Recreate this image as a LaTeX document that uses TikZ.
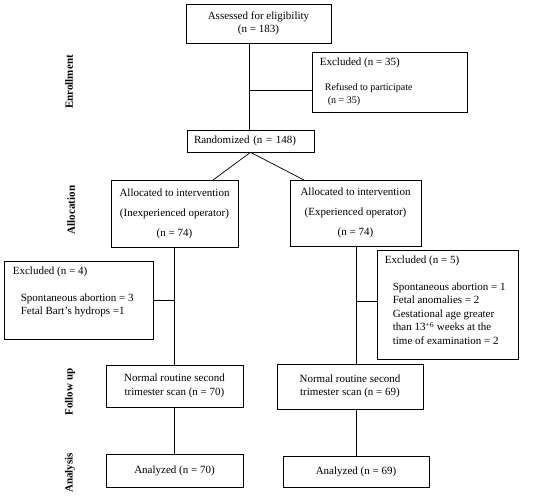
\documentclass[tikz,border=0pt]{standalone}
\usepackage{fontspec}
\setmainfont{Liberation Serif}
\usetikzlibrary{positioning}
\begin{document}
\begin{tikzpicture}[x=1pt,y=-1pt]
\tikzstyle{boite}=[draw,line width=0.7pt,inner sep=0pt,align=center,font=\fontsize{11}{13.5}\selectfont]
\tikzstyle{texte}=[inner sep=0pt,align=left,font=\fontsize{11}{13.5}\selectfont]
\tikzstyle{trait}=[line width=0.7pt]
\tikzstyle{phase}=[rotate=90,inner sep=0pt,font=\fontsize{11}{13}\selectfont\bfseries]
\useasboundingbox (0,0) rectangle (550,498);
% phases
\node[phase] (Enroll) at (69,82) {Enrollment};
\node[phase] (Alloc) at (71,210) {Allocation};
\node[phase] (Suivi) at (70,392) {Follow up};
\node[phase] (Analyse) at (70,473) {Analysis};
% boites
\node[boite,minimum width=145pt,minimum height=39pt] (Assess) at (258.5,23.5) {Assessed for eligibility\\(n = 183)};
\node[boite,minimum width=155pt,minimum height=60pt] (Excl) at (389.5,82) {};
\node[texte,below right=6pt and 8pt of Excl.north west] (ExclTxt) {Excluded (n = 35)\\[11.5pt]\fontsize{10}{12}\selectfont\hspace{5pt}Refused to participate\\\fontsize{10}{12}\selectfont\hspace{8pt}(n = 35)};
\node[boite,minimum width=127pt,minimum height=22pt,text width=113pt,inner xsep=7pt,align=left] (Rand) at (250.5,141) {Randomized (n = 148)};
\node[boite,minimum width=127pt,minimum height=67pt] (AllocL) at (174.5,213.5) {Allocated to intervention\\[6.5pt](Inexperienced operator)\\[6.5pt](n = 74)};
\node[boite,minimum width=131pt,minimum height=66pt] (AllocR) at (355.5,213) {Allocated to intervention\\[6.5pt](Experienced operator)\\[6.5pt](n = 74)};
\node[boite,minimum width=149pt,minimum height=78pt] (ExclL) at (78.5,300) {};
\node[texte,below right=6pt and 9pt of ExclL.north west] (ExclLTxt) {Excluded (n = 4)\\[13.5pt]\hspace{8pt}Spontaneous abortion = 3\\\hspace{8pt}Fetal Bart’s hydrops =1};
\node[boite,minimum width=141pt,minimum height=109pt] (ExclR) at (447.5,304.5) {};
\node[texte,below right=6pt and 8pt of ExclR.north west] (ExclRTxt) {Excluded (n = 5)\\[13.5pt]\hspace{8pt}Spontaneous abortion = 1\\\hspace{8pt}Fetal anomalies = 2\\\hspace{8pt}Gestational age greater\\\hspace{8pt}than 13\textsuperscript{+6} weeks at the\\\hspace{8pt}time of examination = 2};
\node[boite,minimum width=137pt,minimum height=42pt] (SuiviL) at (174.5,386) {Normal routine second\\trimester scan (n = 70)};
\node[boite,minimum width=146pt,minimum height=45pt] (SuiviR) at (350,386.5) {Normal routine second\\trimester scan (n = 69)};
\node[boite,minimum width=137pt,minimum height=33pt] (AnaL) at (174.5,470.5) {Analyzed (n = 70)};
\node[boite,minimum width=146pt,minimum height=31pt] (AnaR) at (356,471.5) {Analyzed (n = 69)};
% traits
\coordinate (jA) at (249,90);
\coordinate (cL) at (213,180);
\coordinate (cR) at (304,180);
\coordinate (jR) at (356,301);
\draw[trait] (Assess.south -| jA)--(Rand.north -| jA);
\draw[trait] (jA)--(Excl.west |- jA);
\draw[trait] (Rand.south)--(cL);
\draw[trait] (Rand.south)--(cR);
\draw[trait] (AllocL.south)--(SuiviL.north);
\draw[trait] (ExclL.east)--(ExclL.east -| AllocL.south);
\draw[trait] (AllocR.south -| jR)--(SuiviR.north -| jR);
\draw[trait] (jR)--(ExclR.west |- jR);
\draw[trait] (SuiviL.south)--(AnaL.north);
\draw[trait] (SuiviR.south -| AnaR.north)--(AnaR.north);
\end{tikzpicture}
\end{document}
